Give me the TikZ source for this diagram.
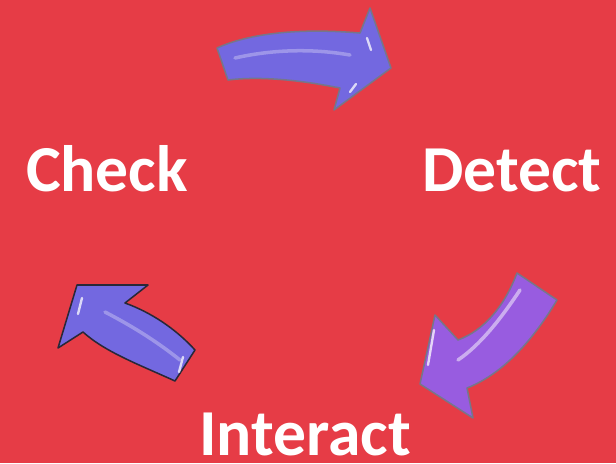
\documentclass[tikz,border=0pt]{standalone}
\usepackage{fontspec}
\setmainfont{Carlito}
\usepackage{tikz}
\usetikzlibrary{positioning}
\definecolor{bgred}{RGB}{230,60,70}
\definecolor{arrowblue}{RGB}{115,104,224}
\definecolor{arrowviolet}{RGB}{152,92,224}
\definecolor{arrowedge}{RGB}{118,118,138}
\definecolor{arrowdark}{RGB}{40,40,56}
\tikzset{
  word/.style={text=white,font=\fontsize{56}{56}\selectfont\bfseries,inner sep=0pt},
  bigarrow/.style={fill=arrowblue,draw=arrowedge,line width=1.3pt,line join=round},
  shine/.style={white,opacity=0.75,line width=2pt,line cap=round}
}
\begin{document}
\begin{tikzpicture}[x=0.03cm,y=-0.03cm]
\fill[bgred] (0,0) rectangle (616,463);
\useasboundingbox (0,0) rectangle (616,463);
% the three steps
\node[word,anchor=base] (check) at (107,191) {Check};
\node[word,anchor=base] (detect) at (512,191) {Detect};
\node[word,anchor=base] (interact) at (305,455) {Interact};
% check -> detect
\draw[bigarrow] (217,48) .. controls (250,33) and (300,28) .. (360,33)
  -- (370,8) -- (391,68) -- (334,110) -- (340,88)
  .. controls (300,80) and (260,76) .. (228,80) -- cycle;
\draw[shine,opacity=0.3,line width=3pt] (235,58) .. controls (270,50) and (310,48) .. (350,55);
\draw[shine] (367,38) -- (371,50);
\draw[shine] (350,92) -- (356,84);
% detect -> interact
\draw[bigarrow,fill=arrowviolet] (517,273) -- (557,300)
  .. controls (530,345) and (500,375) .. (467,388)
  -- (473,418) -- (420,384) -- (435,315) -- (458,340)
  .. controls (485,330) and (505,305) .. (517,273) -- cycle;
\draw[shine,opacity=0.5,line width=3pt] (520,290) .. controls (500,320) and (480,345) .. (458,360);
\draw[shine] (434,330) -- (428,365);
% interact -> check
\draw[bigarrow,draw=arrowdark] (195,350) -- (175,381)
  .. controls (140,365) and (105,352) .. (83,332)
  -- (58,348) -- (77,285) -- (148,285) -- (125,303)
  .. controls (150,312) and (175,328) .. (195,350) -- cycle;
\draw[shine,opacity=0.3,line width=3pt] (105,312) .. controls (130,325) and (155,340) .. (180,360);
\draw[shine] (82,298) -- (78,314);
\draw[shine] (183,357) -- (179,372);
\end{tikzpicture}
\end{document}
